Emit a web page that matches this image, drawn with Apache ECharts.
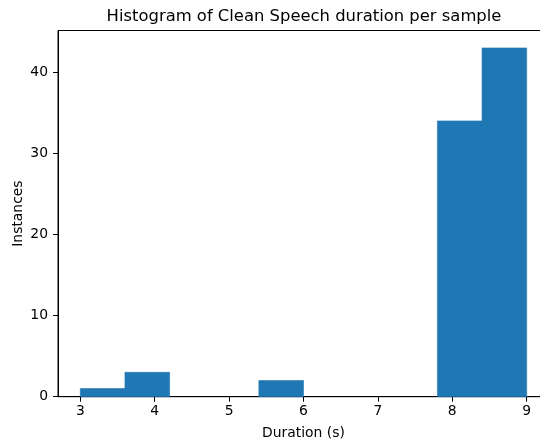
<!DOCTYPE html>
<html>
<head>
<meta charset="utf-8">
<script src="https://cdn.jsdelivr.net/npm/echarts@6/dist/echarts.min.js"></script>
<style>
  html, body { margin: 0; padding: 0; background: #fff; }
  #chart { width: 540px; height: 441px; }
</style>
</head>
<body>
<div id="chart"></div>
<script>
// Histogram bin edges (seconds) and the count in each bin
const binEdges = [3.0, 3.6, 4.2, 4.8, 5.4, 6.0, 6.6, 7.2, 7.8, 8.4, 9.0];
const binCounts = [1, 3, 0, 0, 2, 0, 0, 0, 34, 43];
const xTicks = [3, 4, 5, 6, 7, 8, 9];
const yTicks = [0, 10, 20, 30, 40];

const bars = binCounts.map((c, i) => [binEdges[i], binEdges[i + 1], c]);

const FONT = 'DejaVu Sans';
const chart = echarts.init(document.getElementById('chart'), null, { renderer: 'canvas' });

chart.setOption({
  animation: false,
  backgroundColor: '#ffffff',
  title: {
    text: 'Histogram of Clean Speech duration per sample',
    left: 299,
    top: 4,
    textAlign: 'center',
    textStyle: { fontFamily: FONT, fontSize: 16.4, fontWeight: 'normal', color: '#000' }
  },
  grid: {
    left: 58, right: -9, top: 30.5, bottom: 44.3,
    outerBoundsMode: 'none',
    containLabel: false,
    show: true, borderColor: '#000', borderWidth: 1, backgroundColor: 'transparent'
  },
  xAxis: {
    type: 'value',
    min: 2.7,
    max: 9.3,
    name: 'Duration (s)',
    nameLocation: 'middle',
    nameGap: 30,
    nameMoveOverlap: false,
    nameTextStyle: { fontFamily: FONT, fontSize: 13.9, color: '#000' },
    splitLine: { show: false },
    axisLine: { show: true, onZero: false, lineStyle: { color: '#000', width: 1 } },
    axisTick: { show: true, customValues: xTicks, length: 5, lineStyle: { color: '#000', width: 1 } },
    axisLabel: { customValues: xTicks, margin: 8, fontFamily: FONT, fontSize: 13.9, color: '#000' }
  },
  yAxis: {
    type: 'value',
    min: 0,
    max: 45.15,
    name: 'Instances',
    nameLocation: 'middle',
    nameRotate: 90,
    nameGap: 33,
    nameMoveOverlap: false,
    nameTextStyle: { fontFamily: FONT, fontSize: 13.9, color: '#000' },
    splitLine: { show: false },
    axisLine: { show: true, lineStyle: { color: '#000', width: 1 } },
    axisTick: { show: true, customValues: yTicks, length: 5, lineStyle: { color: '#000', width: 1 } },
    axisLabel: { customValues: yTicks, margin: 10, fontFamily: FONT, fontSize: 13.9, color: '#000' }
  },
  series: [{
    type: 'custom',
    data: bars,
    encode: { x: [0, 1], y: 2 },
    z: 1,
    renderItem: function (params, api) {
      if (api.value(2) <= 0) return null;
      const p0 = api.coord([api.value(0), 0]);
      const p1 = api.coord([api.value(1), api.value(2)]);
      return {
        type: 'rect',
        shape: { x: p0[0], y: p1[1], width: p1[0] - p0[0], height: p0[1] - p1[1] },
        style: { fill: '#1f77b4', stroke: '#1f77b4', lineWidth: 0.6 }
      };
    }
  }]
});
</script>
</body>
</html>
